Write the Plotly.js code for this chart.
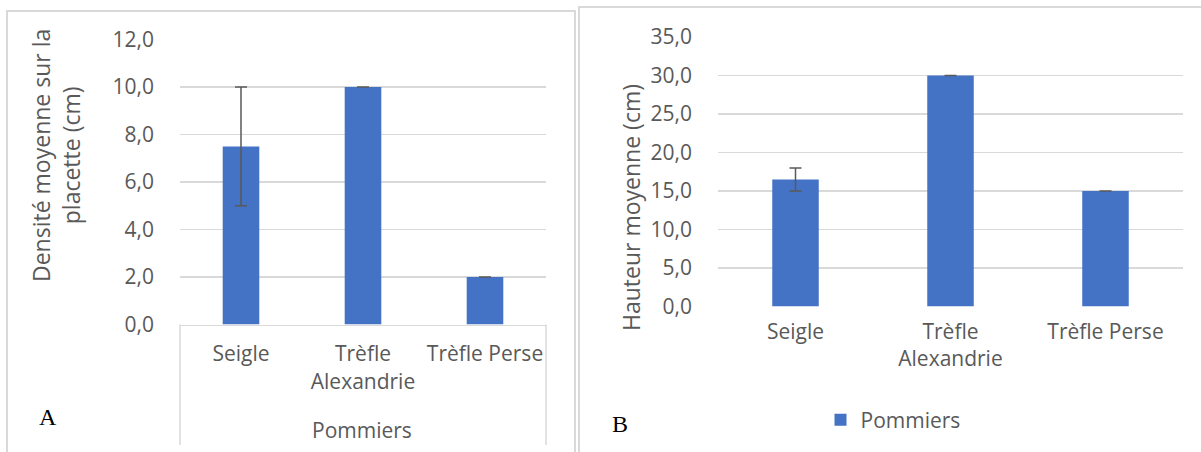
<!DOCTYPE html>
<html>
<head>
<meta charset="utf-8">
<script src="https://cdn.plot.ly/plotly-3.0.1.min.js"></script>
<style>html,body{margin:0;padding:0;background:#fff;}#chart{width:1201px;height:452px;}</style>
</head>
<body>
<div id="chart"></div>
<script>
// ---- data ----
const categories = ['Seigle', 'Trèfle Alexandrie', 'Trèfle Perse'];
const tickLabels = ['Seigle', 'Trèfle<br>Alexandrie', 'Trèfle Perse'];
const densite = [7.5, 10.0, 2.0];
const densiteErr = [2.5, 0, 0];
const hauteur = [16.5, 30.0, 15.0];
const hauteurErr = [1.5, 0, 0];
const seriesName = 'Pommiers';
const titleA = 'Densité moyenne sur la<br>placette (cm)';
const titleB = 'Hauteur moyenne (cm)';
const groupLabel = 'Pommiers';

// ---- styling ----
const W = 1201, H = 452;
const px = v => v / W;
const py = v => 1 - v / H;
const barColor = '#4472C4';
const textColor = '#595959';
const gridColor = '#d9d9d9';
const FONT = 'Open Sans, sans-serif';

const errStyle = {type: 'data', symmetric: false, color: '#595959', thickness: 1.5, width: 6};

const traces = [
  {
    type: 'bar', x: categories, y: densite, name: seriesName,
    marker: {color: barColor}, showlegend: false,
    error_y: Object.assign({array: densiteErr, arrayminus: densiteErr}, errStyle),
    xaxis: 'x', yaxis: 'y', hoverinfo: 'skip'
  },
  {
    type: 'bar', x: categories, y: hauteur, name: seriesName,
    marker: {color: barColor}, showlegend: true,
    error_y: Object.assign({array: hauteurErr, arrayminus: hauteurErr}, errStyle),
    xaxis: 'x2', yaxis: 'y2', hoverinfo: 'skip'
  }
];

const xCommon = {
  type: 'category', tickvals: categories, ticktext: tickLabels,
  showgrid: false, ticks: '', zeroline: false,
  tickfont: {family: FONT, size: 21, color: textColor},
  ticklabelstandoff: 10, fixedrange: true
};
const yCommon = {
  tickformat: '.1f', gridcolor: gridColor, gridwidth: 1.5, zeroline: false,
  showline: false, ticks: '', ticklabelstandoff: 25,
  tickfont: {family: FONT, size: 21, color: textColor}, fixedrange: true
};

const layout = {
  width: W, height: H,
  margin: {l: 0, r: 0, t: 0, b: 0},
  paper_bgcolor: '#ffffff', plot_bgcolor: '#ffffff',
  separators: ', ',
  bargap: 0.7,
  font: {family: FONT, color: textColor},
  xaxis: Object.assign({}, xCommon, {domain: [px(180), px(546)], anchor: 'y',
    showline: true, linecolor: gridColor, linewidth: 1.5}),
  yaxis: Object.assign({}, yCommon, {domain: [py(324.5), py(39.5)], range: [0, 12], dtick: 2, anchor: 'x'}),
  xaxis2: Object.assign({}, xCommon, {domain: [px(718), px(1183)], anchor: 'y2', showline: false}),
  yaxis2: Object.assign({}, yCommon, {domain: [py(306.5), py(37)], range: [0, 35], dtick: 5, anchor: 'x2'}),
  showlegend: true,
  legend: {
    orientation: 'h', x: px(893), xanchor: 'center', y: py(420), yanchor: 'middle',
    font: {family: FONT, size: 21, color: textColor}, bgcolor: 'rgba(0,0,0,0)'
  },
  shapes: [
    // panel A frame
    {type: 'path', xref: 'paper', yref: 'paper',
     path: `M ${px(7)} ${py(460)} L ${px(7)} ${py(11)} L ${px(575)} ${py(11)} L ${px(575)} ${py(460)}`,
     line: {color: gridColor, width: 2}},
    // panel B frame
    {type: 'path', xref: 'paper', yref: 'paper',
     path: `M ${px(579)} ${py(460)} L ${px(579)} ${py(7)} L ${px(1210)} ${py(7)}`,
     line: {color: gridColor, width: 2}},
    // A category box sides
    {type: 'line', xref: 'paper', yref: 'paper', x0: px(180), x1: px(180), y0: py(324.5), y1: py(445),
     line: {color: gridColor, width: 1.5}},
    {type: 'line', xref: 'paper', yref: 'paper', x0: px(546), x1: px(546), y0: py(324.5), y1: py(445),
     line: {color: gridColor, width: 1.5}}
  ],
  annotations: [
    {text: titleA, xref: 'paper', yref: 'paper', x: px(56), y: py(156), textangle: -90,
     showarrow: false, xanchor: 'center', yanchor: 'middle',
     font: {family: FONT, size: 23, color: textColor}},
    {text: titleB, xref: 'paper', yref: 'paper', x: px(631), y: py(208), textangle: -90,
     showarrow: false, xanchor: 'center', yanchor: 'middle',
     font: {family: FONT, size: 23, color: textColor}},
    {text: groupLabel, xref: 'paper', yref: 'paper', x: px(362), y: py(430),
     showarrow: false, xanchor: 'center', yanchor: 'middle',
     font: {family: FONT, size: 21, color: textColor}},
    {text: 'A', xref: 'paper', yref: 'paper', x: px(48), y: py(417),
     showarrow: false, xanchor: 'center', yanchor: 'middle',
     font: {family: 'Liberation Serif, Times New Roman, serif', size: 24, color: '#000000'}},
    {text: 'B', xref: 'paper', yref: 'paper', x: px(620), y: py(424),
     showarrow: false, xanchor: 'center', yanchor: 'middle',
     font: {family: 'Liberation Serif, Times New Roman, serif', size: 24, color: '#000000'}}
  ]
};

Plotly.newPlot('chart', traces, layout, {staticPlot: true, displayModeBar: false});
</script>
</body>
</html>
